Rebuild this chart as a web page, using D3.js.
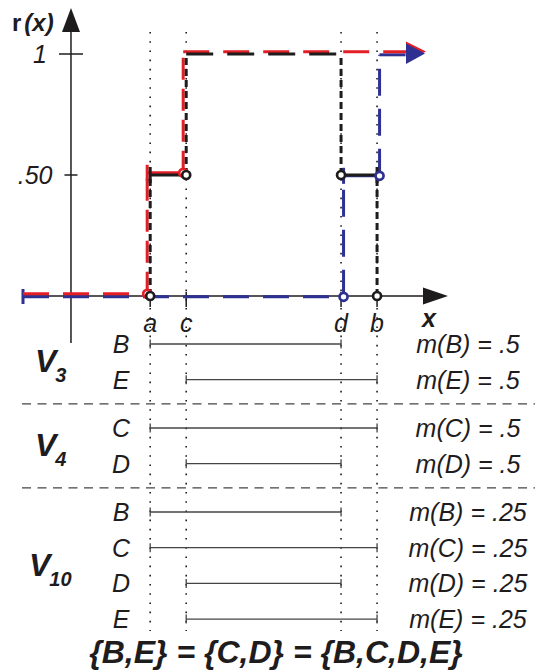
<!DOCTYPE html>
<html><head><meta charset="utf-8">
<script src="https://cdn.jsdelivr.net/npm/d3@7"></script>
<style>
html,body{margin:0;padding:0;background:#fff;}
svg{display:block;font-family:"Liberation Sans",Arial,Helvetica,sans-serif;}
</style></head><body>
<svg id="chart" width="535" height="672"></svg>
<script>
// Focal points on the x axis
const pointNames = ["a", "c", "d", "b"];
const pointValues = [2.2, 3.2, 7.5, 8.5];

// y-axis ticks
const yTickValues = [0.5, 1];
const yTickLabels = [".50", "1"];

// Step functions: breakpoints and the level on each piece between them
const redBreaks = ["a", "c"];
const redLevels = [0, 0.5, 1];
const blueBreaks = ["d", "b"];
const blueLevels = [0, 0.5, 1];
const blackBreaks = ["a", "c", "d", "b"];
const blackLevels = [0, 0.5, 1, 0.5, 0];

// Focal sets as intervals of focal points
const setNames = ["B", "C", "D", "E"];
const setStarts = ["a", "a", "c", "c"];
const setEnds = ["d", "b", "d", "b"];

// Mass assignments, grouped by V
const groupNames = ["3", "4", "10"];
const rowGroups = [0, 0, 1, 1, 2, 2, 2, 2];
const rowSets = ["B", "E", "C", "D", "B", "C", "D", "E"];
const rowMasses = [0.5, 0.5, 0.5, 0.5, 0.25, 0.25, 0.25, 0.25];

const titleText = "{B,E} = {C,D} = {B,C,D,E}";

// ---------------------------------------------------------------
const ink = "#1f1c1d", red = "#e41e26", blue = "#2e3192", gray = "#444";
const svg = d3.select("#chart");
const x = d3.scaleLinear().domain([-1.36, 10.47]).range([22, 448]);
const y = d3.scaleLinear().domain([0, 1]).range([296, 54]);
const px = name => x(pointValues[pointNames.indexOf(name)]);
const x0 = x(0), y0 = y(0);
const fmtMass = v => String(v).replace(/^0/, "");

// dotted guides through the focal points
svg.append("g").selectAll("line").data(pointNames).join("line")
  .attr("x1", d => px(d)).attr("x2", d => px(d))
  .attr("y1", 32).attr("y2", 631)
  .attr("stroke", ink).attr("stroke-width", 1.6)
  .attr("stroke-dasharray", "1.6,7.6");

// axes
const axes = svg.append("g").attr("stroke", ink).attr("fill", ink);
axes.append("line").attr("x1", x0).attr("x2", x0).attr("y1", 343).attr("y2", 28).attr("stroke-width", 1.5);
axes.append("path").attr("stroke", "none")
  .attr("d", `M${x0},8 L${x0 + 9},32 L${x0 - 9},32 Z`);
axes.append("line").attr("x1", 22).attr("x2", 426).attr("y1", y0).attr("y2", y0).attr("stroke-width", 1.5);
axes.append("path").attr("stroke", "none")
  .attr("d", `M448,${y0} L423,${y0 - 8.5} L423,${y0 + 8.5} Z`);

// y ticks and labels
yTickValues.forEach((v, i) => {
  const half = v === 1 ? 12 : 6.5;
  axes.append("line").attr("x1", x0 - half).attr("x2", x0 + half)
    .attr("y1", y(v)).attr("y2", y(v)).attr("stroke-width", 1.5);
  svg.append("text").attr("x", x0 - half - 12).attr("y", y(v) + 9)
    .attr("text-anchor", "end").attr("font-size", 25).attr("font-style", "italic")
    .attr("fill", ink).text(yTickLabels[i]);
});

// x ticks and labels
pointNames.forEach(n => {
  axes.append("line").attr("x1", px(n)).attr("x2", px(n))
    .attr("y1", y0 - 4).attr("y2", y0 + 11).attr("stroke-width", 1.5);
  svg.append("text").attr("x", px(n)).attr("y", 332)
    .attr("text-anchor", "middle").attr("font-size", 25).attr("font-style", "italic")
    .attr("fill", ink).text(n);
});

// axis titles
const rt = svg.append("text").attr("x", 12).attr("y", 31).attr("font-size", 24)
  .attr("font-weight", "bold").attr("fill", ink);
rt.append("tspan").text("r");
rt.append("tspan").attr("dx", 3).attr("font-style", "italic").text("(x)");
svg.append("text").attr("x", 422).attr("y", 327).attr("font-size", 25)
  .attr("font-weight", "bold").attr("font-style", "italic").attr("fill", ink).text("x");

// step functions
function drawStep(breaks, levels, o) {
  const g = svg.append("g").attr("stroke", o.color).attr("fill", "none");
  const bx = breaks.map(px);
  levels.forEach((lv, i) => {
    if (o.skipZero && lv === 0) return;
    const xa = i === 0 ? o.startX : bx[i - 1] + o.dx;
    const xb = i === levels.length - 1 ? o.endX : bx[i] + o.dx;
    g.append("line").attr("x1", xa).attr("x2", xb)
      .attr("y1", y(lv) + o.dy).attr("y2", y(lv) + o.dy)
      .attr("stroke-width", 3)
      .attr("stroke-dasharray", lv === 0.5 ? null : o.hDash);
  });
  bx.forEach((b, i) => {
    const lo = Math.min(levels[i], levels[i + 1]);
    const hi = Math.max(levels[i], levels[i + 1]);
    g.append("line").attr("x1", b + o.dx).attr("x2", b + o.dx)
      .attr("y1", y(lo) + o.dy).attr("y2", y(hi) + o.dy)
      .attr("stroke-width", 3).attr("stroke-dasharray", o.vDash);
    if (hi === 0.5) {
      g.append("line").attr("x1", b + o.dx).attr("x2", b + o.dx)
        .attr("y1", y(hi) + o.dy - 8).attr("y2", y(hi) + o.dy + 8)
        .attr("stroke-width", 3);
    }
  });
  return g;
}
function drawRings(breaks, levels, o) {
  const g = svg.append("g");
  breaks.forEach((bn, i) => {
    const lo = Math.min(levels[i], levels[i + 1]);
    g.append("circle").attr("cx", px(bn) + o.dx).attr("cy", y(lo) + o.dy).attr("r", 4)
      .attr("fill", "#fff").attr("stroke", o.color).attr("stroke-width", 2.7);
  });
}

const blueOpt = {color: blue, dx: 2.5, dy: 0.8, startX: 23, endX: 408, hDash: "26,14", vDash: "27,13"};
const redOpt = {color: red, dx: -3, dy: -2.2, startX: 23, endX: 408, hDash: "26,14", vDash: "22,9"};
const blackOpt = {color: ink, dx: 0, dy: 0, skipZero: true, hDash: "27,14", vDash: "7,4"};

const gBlue = drawStep(blueBreaks, blueLevels, blueOpt);
gBlue.append("line").attr("x1", 23).attr("x2", 23).attr("y1", y0 - 7).attr("y2", y0 + 8).attr("stroke-width", 3);
drawStep(redBreaks, redLevels, redOpt);
drawStep(blackBreaks, blackLevels, blackOpt);

// arrowheads at the right end of the upper pieces
svg.append("path").attr("fill", red)
  .attr("d", `M426,${y(1) - 2.5} L406,${y(1) - 12.5} L406,${y(1) + 7.5} Z`);
svg.append("path").attr("fill", blue)
  .attr("d", `M425,${y(1) - 0.5} L406,${y(1) - 10.5} L406,${y(1) + 10} Z`);

drawRings(redBreaks, redLevels, redOpt);
drawRings(blackBreaks, blackLevels, blackOpt);
drawRings(blueBreaks, blueLevels, blueOpt);

// ---------------- focal set panel ----------------
const rowY = i => 344 + i * 35.7 + rowGroups[i] * 12.6;

// separators between V groups
groupNames.slice(1).forEach((g, gi) => {
  const last = rowGroups.lastIndexOf(gi);
  const sy = (rowY(last) + rowY(last + 1)) / 2;
  svg.append("line").attr("x1", 22).attr("x2", 535).attr("y1", sy).attr("y2", sy)
    .attr("stroke", gray).attr("stroke-width", 1.3).attr("stroke-dasharray", "9,6.5");
});

const rows = svg.append("g");
rowSets.forEach((s, i) => {
  const j = setNames.indexOf(s);
  const xa = px(setStarts[j]), xb = px(setEnds[j]), ry = rowY(i);
  rows.append("line").attr("x1", xa).attr("x2", xb).attr("y1", ry).attr("y2", ry)
    .attr("stroke", gray).attr("stroke-width", 1.3);
  [xa, xb].forEach(cx => rows.append("line").attr("x1", cx).attr("x2", cx)
    .attr("y1", ry - 4.5).attr("y2", ry + 4.5).attr("stroke", gray).attr("stroke-width", 1.3));
  rows.append("text").attr("x", 121).attr("y", ry + 9).attr("text-anchor", "middle")
    .attr("font-size", 25).attr("font-style", "italic").attr("fill", ink).text(s);
  rows.append("text").attr("x", 468).attr("y", ry + 9).attr("text-anchor", "middle")
    .attr("font-size", 25).attr("font-style", "italic").attr("fill", ink)
    .text(`m(${s}) = ${fmtMass(rowMasses[i])}`);
});

groupNames.forEach((g, gi) => {
  const first = rowGroups.indexOf(gi), last = rowGroups.lastIndexOf(gi);
  const mid = (rowY(first) + rowY(last)) / 2;
  const t = svg.append("text").attr("x", g.length > 1 ? 29 : 35).attr("y", mid + 10)
    .attr("font-weight", "bold").attr("font-style", "italic").attr("fill", ink);
  t.append("tspan").attr("font-size", 32).text("V");
  t.append("tspan").attr("font-size", 20).attr("dx", -1).attr("dy", 10).text(g);
});

svg.append("text").attr("x", 276).attr("y", 663).attr("text-anchor", "middle")
  .attr("font-size", 32).attr("font-weight", "bold").attr("font-style", "italic")
  .attr("fill", ink).text(titleText);
</script>
</body></html>
